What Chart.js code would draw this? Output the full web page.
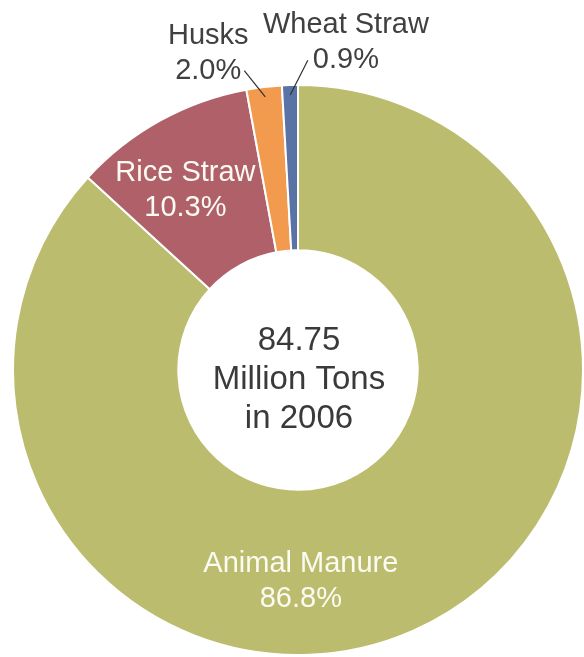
<!DOCTYPE html>
<html>
<head>
<meta charset="utf-8">
<script src="https://cdn.jsdelivr.net/npm/chart.js@4"></script>
<style>
  html, body { margin: 0; padding: 0; background: #fff; }
  canvas { display: block; }
</style>
</head>
<body>
<canvas id="myChart" width="584" height="657"></canvas>
<script>
const categories = ['Animal Manure', 'Rice Straw', 'Husks', 'Wheat Straw'];
const shares = [86.8, 10.3, 2.0, 0.9];
const centerLines = ['84.75', 'Million Tons', 'in 2006'];

const colors = ['#bbbc6d', '#af6068', '#f29b4f', '#5a73a6'];

// where each label sits, as a fraction of the outer radius from the centre
const labelSpots = [
  { dx: 0.01, dy: 0.74, color: '#fbfbf3', inside: true },
  { dx: -0.395, dy: -0.63, color: '#fbfbf3', inside: true },
  { dx: -0.315, dy: -1.114, color: '#404040', inside: false, side: 'right' },
  { dx: 0.168, dy: -1.15, color: '#404040', inside: false, side: 'left' }
];

const labelPlugin = {
  id: 'sliceLabels',
  afterDatasetsDraw(chart) {
    const ctx = chart.ctx;
    const meta = chart.getDatasetMeta(0);
    const first = meta.data[0];
    const cx = first.x, cy = first.y, r = first.outerRadius;
    ctx.save();
    ctx.textAlign = 'center';
    ctx.textBaseline = 'middle';
    ctx.font = '29px "Liberation Sans", Arial, sans-serif';

    categories.forEach((name, i) => {
      const spot = labelSpots[i];
      const x = cx + spot.dx * r;
      const y = cy + spot.dy * r;
      const pct = shares[i].toFixed(1) + '%';
      ctx.fillStyle = spot.color;
      ctx.fillText(name, x, y - 17);
      ctx.fillText(pct, x, y + 18);

      if (!spot.inside) {
        const arc = meta.data[i];
        const mid = (arc.startAngle + arc.endAngle) / 2;
        const ex = cx + Math.cos(mid) * r * 0.965;
        const ey = cy + Math.sin(mid) * r * 0.965;
        const w = ctx.measureText(pct).width;
        const sx = spot.side === 'right' ? x + w / 2 + 3 : x - w / 2 - 5;
        const sy = y + 18;
        ctx.strokeStyle = '#303030';
        ctx.lineWidth = 1.2;
        ctx.beginPath();
        ctx.moveTo(sx, sy);
        ctx.lineTo(ex, ey);
        ctx.stroke();
      }
    });

    ctx.fillStyle = '#3a3a3a';
    ctx.font = '33px "Liberation Sans", Arial, sans-serif';
    centerLines.forEach((line, k) => {
      ctx.fillText(line, cx + 1, cy - 29 + k * 39);
    });
    ctx.restore();
  }
};

const config = {
  type: 'doughnut',
  data: {
    labels: categories,
    datasets: [{
      data: shares,
      backgroundColor: colors,
      borderColor: '#ffffff',
      borderWidth: 2
    }]
  },
  options: {
    responsive: false,
    animation: false,
    cutout: '42%',
    layout: { padding: { left: 12, right: 0, top: 84, bottom: 1 } },
    plugins: {
      legend: { display: false },
      tooltip: { enabled: false }
    }
  },
  plugins: [labelPlugin]
};

const myChart = new Chart(document.getElementById('myChart'), config);
</script>
</body>
</html>
